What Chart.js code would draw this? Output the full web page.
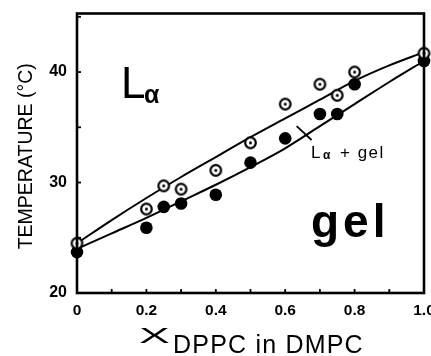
<!DOCTYPE html>
<html>
<head>
<meta charset="utf-8">
<script src="https://cdn.jsdelivr.net/npm/chart.js@4/dist/chart.umd.min.js"></script>
<style>
  html, body { margin: 0; padding: 0; background: #fff; overflow: hidden; }
  #wrap { width: 445px; height: 356px; }
  canvas { display: block; }
</style>
</head>
<body>
<div id="wrap"><canvas id="c" width="445" height="356"></canvas></div>
<script>
// ---- data ----
const compX = [0, 0.2, 0.25, 0.3, 0.4, 0.5, 0.6, 0.7, 0.75, 0.8, 1.0];
const onsetT = [24.5, 27.6, 29.7, 29.4, 31.1, 33.6, 37.1, 38.9, 37.9, 40.0, 41.7];   // open circles
const completionT = [23.7, 25.9, 27.8, 28.1, 28.9, 31.8, 34.0, 36.2, 36.2, 38.9, 41.0]; // filled circles

const curveX = [0, 0.1, 0.2, 0.3, 0.4, 0.5, 0.6, 0.7, 0.8, 0.9, 1.0];
const liquidusT = [24.5, 26.6, 28.6, 30.5, 32.3, 34.1, 35.8, 37.5, 39.2, 40.6, 41.8];
const solidusT = [24.0, 25.4, 26.8, 28.3, 29.8, 31.4, 33.1, 35.1, 37.1, 39.1, 41.0];

const leaderX = [0.633, 0.676];
const leaderT = [35.1, 33.85];

const xTickValues = [0, 0.2, 0.4, 0.6, 0.8, 1.0];
const yTickValues = [20, 30, 40];

const yTitle = 'TEMPERATURE (°C)';
const xTitleMain = 'X';
const xTitleSub = 'DPPC in DMPC';
const regionLa = ['L', 'α'];
const regionGel = 'gel';
const regionMix = ['L', 'α', '+ gel'];

// ---- build ----
const pts = (xs, ys) => xs.map((x, i) => ({ x: x, y: ys[i] }));

function makeOpenDot() {
  const c = document.createElement('canvas');
  c.width = 15; c.height = 15;
  const g = c.getContext('2d');
  g.beginPath(); g.arc(7.5, 7.5, 5.3, 0, Math.PI * 2);
  g.fillStyle = '#fff'; g.fill();
  g.lineWidth = 2.2; g.strokeStyle = '#000'; g.stroke();
  g.beginPath(); g.arc(7.5, 7.5, 1.5, 0, Math.PI * 2);
  g.fillStyle = '#000'; g.fill();
  return c;
}

Chart.defaults.font.family = '"Liberation Sans", Arial, sans-serif';
Chart.defaults.color = '#000';

const decor = {
  id: 'decor',
  beforeDraw(chart) {
    const ctx = chart.ctx;
    ctx.save();
    ctx.fillStyle = '#fff';
    ctx.fillRect(0, 0, chart.width, chart.height);
    ctx.restore();
  },
  afterDraw(chart) {
    const ctx = chart.ctx;
    const a = chart.chartArea;
    const xs = chart.scales.x, ys = chart.scales.y;
    ctx.save();
    // frame
    ctx.strokeStyle = '#000';
    ctx.lineWidth = 2.6;
    ctx.strokeRect(a.left, a.top, a.right - a.left, a.bottom - a.top);
    // inner tick marks
    ctx.lineWidth = 1.8;
    for (let i = 1; i < 10; i++) {
      const px = xs.getPixelForValue(i / 10);
      ctx.beginPath(); ctx.moveTo(px, a.bottom); ctx.lineTo(px, a.bottom - 4); ctx.stroke();
    }
    for (let v = 25; v <= 45; v += 5) {
      const py = ys.getPixelForValue(v);
      ctx.beginPath(); ctx.moveTo(a.left, py); ctx.lineTo(a.left + 4, py); ctx.stroke();
    }
    ctx.fillStyle = '#000';
    // y title
    ctx.save();
    ctx.translate(27, (a.top + a.bottom) / 2 + 3);
    ctx.rotate(-Math.PI / 2);
    ctx.font = '19.5px "Liberation Sans"';
    ctx.textAlign = 'center';
    ctx.textBaseline = 'middle';
    ctx.fillText(yTitle, 0, 0);
    ctx.restore();
    // x title
    ctx.save();
    ctx.translate(139, 343);
    ctx.scale(2.1, 1);
    ctx.font = '22px "Liberation Sans"';
    ctx.textBaseline = 'alphabetic';
    ctx.fillText(xTitleMain, 0, 0);
    ctx.restore();
    ctx.font = '25px "Liberation Sans"';
    ctx.letterSpacing = '1.2px';
    ctx.textBaseline = 'alphabetic';
    ctx.fillText(xTitleSub, 173, 353);
    // region labels
    ctx.letterSpacing = '0px';
    ctx.font = '44px "Liberation Sans"';
    ctx.fillText(regionLa[0], 121, 98);
    ctx.font = 'bold 25px "Liberation Sans"';
    ctx.fillText(regionLa[1], 144, 103);
    ctx.font = 'bold 46px "Liberation Sans"';
    ctx.letterSpacing = '4px';
    ctx.fillText(regionGel, 311, 237);
    ctx.letterSpacing = '0px';
    ctx.font = '17px "Liberation Sans"';
    ctx.fillText(regionMix[0], 311, 158);
    ctx.font = 'bold 12px "Liberation Sans"';
    ctx.fillText(regionMix[1], 323, 159);
    ctx.font = '17px "Liberation Sans"';
    ctx.letterSpacing = '1.5px';
    ctx.fillText(regionMix[2], 340, 158);
    ctx.restore();
  }
};

new Chart(document.getElementById('c'), {
  type: 'scatter',
  data: {
    datasets: [
      { data: pts(curveX, liquidusT), showLine: true, borderColor: '#000', borderWidth: 2,
        pointRadius: 0, cubicInterpolationMode: 'monotone', order: 5, clip: false },
      { data: pts(curveX, solidusT), showLine: true, borderColor: '#000', borderWidth: 2,
        pointRadius: 0, cubicInterpolationMode: 'monotone', order: 5, clip: false },
      { data: pts(leaderX, leaderT), showLine: true, borderColor: '#000', borderWidth: 1.8,
        pointRadius: 0, order: 5, clip: false },
      { data: pts(compX, completionT), pointStyle: 'circle', pointRadius: 6.3,
        backgroundColor: '#000', borderColor: '#000', borderWidth: 0, order: 2, clip: false },
      { data: pts(compX, onsetT), pointStyle: makeOpenDot(), order: 1, clip: false }
    ]
  },
  options: {
    responsive: false,
    animation: false,
    devicePixelRatio: 1,
    layout: { padding: { left: 0, right: 21, top: 13.5, bottom: 0 } },
    plugins: { legend: { display: false }, tooltip: { enabled: false } },
    scales: {
      x: {
        type: 'linear', min: 0, max: 1,
        grid: { display: false, drawTicks: false },
        border: { display: false },
        afterFit: s => { s.height = 63; s.paddingLeft = 0; s.paddingRight = 0; },
        afterBuildTicks: s => { s.ticks = xTickValues.map(v => ({ value: v })); },
        ticks: {
          autoSkip: false, maxRotation: 0, padding: 8,
          font: { size: 15.5, weight: 'bold' },
          callback: v => (v === 0 ? '0' : Number(v).toFixed(1))
        }
      },
      y: {
        type: 'linear', min: 20, max: 45.3,
        grid: { display: false, drawTicks: false },
        border: { display: false },
        afterFit: s => { s.width = 77; s.paddingTop = 0; s.paddingBottom = 0; },
        afterBuildTicks: s => { s.ticks = yTickValues.map(v => ({ value: v })); },
        ticks: {
          padding: 10,
          font: { size: 16, weight: 'bold' },
          callback: v => String(v)
        }
      }
    }
  },
  plugins: [decor]
});
</script>
</body>
</html>
